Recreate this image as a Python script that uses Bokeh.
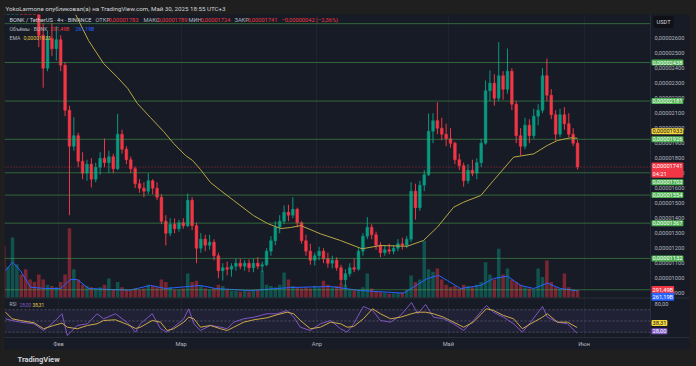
from bokeh.plotting import figure
from bokeh.models import Range1d, FixedTicker, Label, Span, BoxAnnotation, ColumnDataSource, Title
from bokeh.embed import file_html
from bokeh.resources import INLINE

# ---------------- data (BONK/USDT, values in units of 1e-8 USDT) ----------------
# one entry per day, index 0 = 19 Jan 2025 ... index 131 = 30 May 2025
opens = [3500,3150,3250,3300,3350,3300,3200,3100,3000,2620,
         2400,2600,2530,2590,2420,2120,1880,1950,1780,1700,
         1760,1660,1740,1800,1770,1810,1730,1960,1860,1790,
         1730,1630,1600,1580,1650,1600,1540,1380,1300,1360,
         1330,1370,1350,1520,1350,1200,1260,1220,1240,1150,
         1050,1070,1060,1080,1100,1080,1100,1070,1100,1080,
         1090,1180,1250,1340,1380,1440,1420,1460,1370,1250,
         1180,1120,1150,1180,1130,1100,1120,1070,990,1030,
         1070,1060,1180,1280,1340,1290,1220,1170,1190,1180,
         1200,1230,1220,1260,1580,1470,1620,1690,1980,2050,
         2000,1960,1930,1900,1790,1750,1650,1720,1700,1770,
         1900,2250,2300,2200,2350,2260,2380,2160,1950,1880,
         2020,1950,2080,2120,2350,2220,2090,1960,2090,2030,
         1960,1900]
closes = [3150,3250,3300,3350,3300,3200,3100,3000,2620,2400,
          2600,2530,2590,2420,2120,1880,1950,1780,1700,1760,
          1660,1740,1800,1770,1810,1730,1960,1860,1790,1730,
          1630,1600,1580,1650,1600,1540,1380,1300,1360,1330,
          1370,1350,1520,1350,1200,1260,1220,1240,1150,1050,
          1070,1060,1080,1100,1080,1100,1070,1100,1080,1090,
          1180,1250,1340,1380,1440,1420,1460,1370,1250,1180,
          1120,1150,1180,1130,1100,1120,1070,990,1030,1070,
          1060,1180,1280,1340,1290,1220,1170,1190,1180,1200,
          1230,1220,1260,1580,1470,1620,1690,1980,2050,2000,
          1960,1930,1900,1790,1750,1650,1720,1700,1770,1900,
          2250,2300,2200,2350,2260,2380,2160,1950,1880,2020,
          1950,2080,2120,2350,2220,2090,1960,2090,2030,1960,
          1900,1741]
highs = [3600,3350,3400,3450,3420,3380,3250,3150,3020,2700,
         2650,2700,2680,2620,2440,2150,2073,1970,1840,1790,
         1800,1770,1840,1931,1850,1830,2096,1990,1880,1810,
         1745,1660,1640,1700,1660,1640,1560,1420,1400,1398,
         1390,1400,1565,1540,1370,1300,1290,1290,1260,1170,
         1100,1110,1100,1131,1130,1120,1125,1130,1140,1110,
         1200,1280,1380,1420,1485,1490,1540,1470,1380,1290,
         1230,1170,1210,1200,1170,1150,1140,1090,1060,1100,
         1130,1200,1300,1407,1360,1310,1240,1220,1230,1220,
         1260,1270,1280,1640,1630,1650,1720,2098,2100,2173,
         2070,2030,2000,1910,1830,1770,1760,1790,1800,1930,
         2318,2385,2360,2573,2380,2531,2400,2180,2000,2070,
         2060,2130,2160,2400,2465,2260,2120,2130,2140,2100,
         2000,1920]
lows = [3050,3000,3150,3200,3250,3150,3050,2950,2540,2270,
        2380,2480,2450,2380,2080,1420,1850,1740,1660,1650,
        1605,1640,1690,1740,1700,1700,1720,1830,1760,1700,
        1600,1570,1540,1560,1560,1520,1360,1218,1280,1300,
        1310,1330,1340,1320,1100,1170,1180,1190,1120,1000,
        985,1020,1010,1050,1060,1050,1040,1040,1060,1040,
        1080,1150,1220,1300,1360,1380,1400,1340,1230,1150,
        1090,1085,1120,1100,1070,1065,1050,960,940,1010,
        1040,1050,1150,1260,1260,1190,1140,1150,1160,1160,
        1180,1190,1200,1240,1390,1450,1580,1680,1900,1960,
        1920,1880,1870,1760,1720,1610,1630,1680,1660,1740,
        1890,2180,2150,2180,2190,2230,2120,1900,1818,1860,
        1900,1930,2020,2100,2180,2060,1918,1940,1990,1940,
        1880,1724]
# volume, billions of BONK
volumes = [2030,1200,2340,1300,900,1100,700,600,900,700,
           500,450,400,600,900,2700,1100,700,500,450,
           400,350,400,500,740,300,600,400,300,280,
           350,300,350,500,450,400,700,600,400,300,
           300,350,940,600,650,450,350,300,350,500,
           450,300,250,250,220,250,230,250,300,1050,
           500,450,400,500,975,700,450,400,350,400,
           350,450,400,650,500,400,450,550,500,300,
           280,300,400,940,350,250,200,180,150,160,
           180,200,300,860,600,700,2220,1100,1000,1130,
           700,500,400,450,350,500,450,400,500,600,
           1370,900,700,1900,900,1130,700,600,500,400,
           350,300,1130,800,1440,600,400,350,940,400,
           300,291.49]
# EMA line (day index, price)
ema_t = [16.4,19.35,22.8,26.0,28.3,30.5,33.5,36.5,38.8,41.5,
         43.1,44.9,47.2,49.5,52.5,57.0,60.2,63.2,65.5,67.8,
         72.3,76.9,81.8,86.0,92.1,95.8,99.0,102.7,105.0,108.9,
         111.8,116.4,121.0,124.1,126.4,129.4,131.0]
ema_v = [2758,2585,2431,2338,2265,2165,2071,1978,1898,1818,
         1785,1725,1638,1585,1518,1418,1365,1331,1338,1351,
         1296,1251,1196,1218,1213,1251,1340,1473,1507,1551,
         1651,1807,1829,1885,1918,1936,1933]
# volume moving average
vma_t = [0.4,2.0,3.8,6.1,9.5,13.0,15.2,16.8,19.4,24.4,
         28.9,33.5,36.9,44.9,48.3,56.3,65.5,74.6,81.4,91.3,
         96.7,99.3,101.3,104.3,108.9,111.8,115.0,118.0,121.0,124.1,
         127.1,131.0]
vma_v = [1050,1377,1050,400,350,350,700,700,350,310,
         290,470,350,470,350,270,390,430,270,170,
         740,860,660,350,470,740,830,470,350,560,
         350,261.19]
# RSI and its moving average
rsi_t = [0.4,1.9,3.8,6.9,9.1,11.4,13.3,14.5,16.8,19.1,
         21.3,22.8,25.5,28.2,30.1,31.2,33.9,35.8,37.3,38.8,
         41.1,42.2,43.4,44.9,47.2,49.5,51.0,52.5,54.8,57.1,
         60.1,62.4,64.7,66.2,67.7,70.0,72.3,74.6,76.9,78.4,
         79.9,82.1,84.2,86.0,88.3,90.6,93.1,94.5,96.3,98.1,
         100.4,102.7,105.0,107.2,110.2,111.8,114.1,116.4,118.4,120.3,
         123.0,124.1,126.4,128.7,130.9]
rsi_v = [53.9,50.9,47.9,45.0,33.0,47.9,62.9,24.1,42.0,45.0,
         62.9,53.9,62.9,47.3,30.0,45.0,62.9,36.1,30.0,38.9,
         53.9,71.8,45.0,33.0,42.0,38.9,36.1,47.9,53.9,56.8,
         62.9,62.9,68.8,56.8,38.9,33.0,45.0,50.9,36.1,30.0,
         45.0,75.9,68.8,50.9,47.9,59.8,83.0,62.9,79.5,56.8,
         53.9,45.0,33.0,50.9,77.7,65.7,56.8,45.0,30.0,47.9,
         75.9,56.8,47.9,45.0,28.0]
rsi_ma_v = [65.7,53.9,50.9,46.8,36.1,42.0,46.1,38.9,36.1,42.0,
            45.0,50.9,52.1,43.8,36.6,38.9,50.9,47.9,33.0,36.1,
            47.9,56.8,53.9,38.9,42.0,36.1,33.0,38.9,47.9,52.1,
            55.7,61.1,65.7,62.9,50.9,36.1,38.9,47.9,45.0,38.9,
            40.2,53.9,71.8,62.9,53.9,56.8,62.9,65.7,65.7,62.9,
            56.8,47.9,38.9,47.9,71.8,68.8,59.8,53.9,36.1,45.0,
            56.8,62.9,47.9,47.9,38.31]
# horizontal support / resistance levels
levels = [2697, 2438, 2181, 1926, 1703, 1554, 1367, 1132, 923]
labelled_levels = [2438, 2181, 1926, 1703, 1554, 1367, 1132]
price_ticks = list(range(900, 2700, 100))
rsi_levels = [70, 50, 30]
month_first_day = [13, 41, 72, 102, 133]
month_names = ["Фев", "Мар", "Апр", "Май", "Июн"]
last_price = 1741
ema_last = 1933
vol_last = 291.49
vma_last = 261.19
rsi_last = 28.00
rsi_ma_last = 38.31

# ---------------- styling / layout ----------------
OUTER = "#1f1f1f"
PANEL = "#171b26"
UP = "#089981"
DN = "#f23645"
GREEN = "#4caf50"
TXT = "#b2b5be"
HEAD = "#d1d4dc"
FONT = "Roboto"
X0, X1 = 0.17, 156.56       # visible time span (day index) incl. price-scale column
CHART_END = 147.66          # where the price scale column begins

def fmt(v):
    return "0,0000%04d" % v

n = len(closes)
days = list(range(n))
src = ColumnDataSource(dict(
    t=days, h=highs, l=lows,
    top=[max(o, c) for o, c in zip(opens, closes)],
    bot=[min(o, c) for o, c in zip(opens, closes)],
    color=[UP if c >= o else DN for o, c in zip(opens, closes)],
    vol=volumes))

p = figure(width=696, height=366, frame_width=685, frame_height=323,
           output_backend="svg", toolbar_location=None,
           x_range=Range1d(X0, X1), y_range=Range1d(604.7, 2758),
           y_axis_location="right",
           min_border_left=4, min_border_right=7, min_border_top=14, min_border_bottom=29,
           background_fill_color=PANEL, border_fill_color=OUTER, outline_line_color=None)
p.extra_y_ranges = {"vol": Range1d(-1560, 11037), "rsi": Range1d(20.5, 597.3)}

p.title.text = "YokoLarmone опубликовал(а) на TradingView.com, Май 30, 2025 18:55 UTC+3"
p.title.text_font = FONT
p.title.text_font_size = "6.2px"
p.title.text_font_style = "normal"
p.title.text_color = HEAD
p.title.align = "left"
p.title.offset = 1
p.title.standoff = 3

# grids
p.xgrid.ticker = FixedTicker(ticks=[d - 0.5 for d in month_first_day])
p.xgrid.grid_line_color = "#1f2331"
p.ygrid.grid_line_color = None

# axes
ya = p.yaxis[0]
ya.ticker = FixedTicker(ticks=price_ticks)
ya.major_label_overrides = {v: fmt(v) for v in price_ticks}
ya.major_tick_line_color = None
ya.minor_tick_line_color = None
ya.major_tick_out = 0
ya.axis_line_color = None
ya.major_label_text_color = TXT
ya.major_label_text_font = FONT
ya.major_label_text_font_size = "5.7px"
ya.major_label_standoff = -35

xa = p.xaxis[0]
xa.ticker = FixedTicker(ticks=[d - 0.5 for d in month_first_day])
xa.major_label_overrides = {d - 0.5: m for d, m in zip(month_first_day, month_names)}
xa.major_tick_line_color = None
xa.minor_tick_line_color = None
xa.major_tick_out = 0
xa.axis_line_color = "#2a2e39"
xa.major_label_text_color = TXT
xa.major_label_text_font = FONT
xa.major_label_text_font_size = "5.7px"
xa.major_label_standoff = 3
xa.background_fill_color = PANEL

p.add_layout(Title(text="TradingView", align="left", offset=13, text_font=FONT,
                   text_font_size="7.5px", text_font_style="bold", text_color=HEAD,
                   standoff=6), "below")

# price-scale separator and pane separator
p.add_layout(Span(location=CHART_END, dimension="height", line_color="#2a2e39", line_width=1))
p.add_layout(Span(location=-20, dimension="width", y_range_name="vol", line_color="#2a2e39", line_width=1))

# RSI pane decoration
p.add_layout(BoxAnnotation(right=CHART_END, bottom=30, top=70, y_range_name="rsi",
                           fill_color="#7e57c2", fill_alpha=0.10, line_color=None))
p.segment(x0=[X0] * 3, x1=[CHART_END] * 3, y0=rsi_levels, y1=rsi_levels, y_range_name="rsi",
          line_color="#787b86", line_alpha=0.55, line_dash="2 2", line_width=1)

# volume
p.vbar(x="t", width=0.8, top="vol", bottom=0, fill_color="color", fill_alpha=0.45,
       line_color=None, source=src, y_range_name="vol")
p.line(vma_t, vma_v, y_range_name="vol", line_color="#2962ff", line_width=1)

# candles
p.segment(x0="t", y0="h", x1="t", y1="l", line_color="color", line_width=1, source=src)
p.vbar(x="t", width=0.62, top="top", bottom="bot", fill_color="color", line_color="color",
       line_width=0.5, source=src)

# horizontal levels and last-price line
p.segment(x0=[X0] * len(levels), x1=[CHART_END] * len(levels), y0=levels, y1=levels,
          line_color=GREEN, line_alpha=0.5, line_width=1)
p.segment(x0=[X0], x1=[CHART_END], y0=[last_price], y1=[last_price],
          line_color=DN, line_alpha=0.6, line_dash="1 2", line_width=1)

# EMA
p.line(ema_t, ema_v, line_color="#b8a745", line_width=1)

# RSI
p.line(rsi_t, rsi_v, y_range_name="rsi", line_color="#7e57c2", line_width=1)
p.line(rsi_t, rsi_ma_v, y_range_name="rsi", line_color="#d4b43a", line_width=1)

# ---------------- texts ----------------
FL, FB = 4, 337  # frame left, frame bottom in page px

def txt(X, Y, text, color, size="5.7px"):
    p.add_layout(Label(x=X - FL, y=FB - Y, x_units="screen", y_units="screen", text=text,
                       text_color=color, text_font=FONT, text_font_size=size,
                       text_baseline="middle", text_align="left"))

def box(yv, text, bg, fg, yr="default", dy=0):
    p.add_layout(Label(x=651 - FL, x_units="screen", y=yv, y_units="data", y_range_name=yr,
                       y_offset=dy, text=text, text_color=fg, text_font=FONT,
                       text_font_size="5.7px", text_baseline="middle", text_align="left",
                       background_fill_color=bg, padding=1, border_radius=1))

txt(9, 19, "BONK / TetherUS · 4ч · BINANCE", HEAD)
txt(95, 19, "ОТКР", TXT)
txt(108, 19, fmt(1783), DN)
txt(143, 19, "МАКС", TXT)
txt(157, 19, fmt(1789), DN)
txt(188, 19, "МИН", TXT)
txt(200, 19, fmt(1724), DN)
txt(234, 19, "ЗАКР", TXT)
txt(247, 19, fmt(1741), DN)
txt(281, 19, "−0,00000042 (−2,36%)", DN)
txt(9, 28.5, "Объёмы · BONK", TXT, "5.2px")
txt(50, 28.5, "291,49B", DN, "5.2px")
txt(75, 28.5, "261,19B", "#2962ff", "5.2px")
txt(9, 37, "EMA", TXT, "5.2px")
txt(23, 37, fmt(ema_last), "#e0c84a", "5.2px")
txt(9, 304, "RSI", TXT, "4.8px")
txt(19, 304, "28,00", "#7e57c2", "4.8px")
txt(32, 304, "38,31", "#e0c84a", "4.8px")

# right-scale boxes
p.add_layout(Label(x=653 - FL, y=FB - 21.5, x_units="screen", y_units="screen", text="USDT",
                   text_color=HEAD, text_font=FONT, text_font_size="5.7px",
                   text_baseline="middle", background_fill_color="#0f1117", padding=3, border_radius=2))
for lv in labelled_levels:
    dy = -9.5 if lv == 1703 else 0
    box(lv, fmt(lv), GREEN, "white", dy=dy)
box(ema_last, fmt(ema_last), "#f5d63d", "#131722", dy=7)
box(last_price, fmt(last_price) + "\n04:21", DN, "white", dy=-3)
box(vol_last, "291,49B", DN, "white", yr="vol")
box(vma_last, "261,19B", "#2962ff", "white", yr="vol", dy=-6)
box(rsi_ma_last, "38,31", "#f5d63d", "#131722", yr="rsi", dy=4.5)
box(rsi_last, "28,00", "#7e57c2", "white", yr="rsi", dy=2)
p.add_layout(Label(x=654 - FL, x_units="screen", y=80, y_units="data", y_range_name="rsi",
                   text="80,00", text_color=TXT, text_font=FONT, text_font_size="5.7px",
                   text_baseline="middle"))

html = file_html(p, INLINE)
html = html.replace("</head>", "<style>html,body{margin:0;padding:0;background:%s;}</style></head>" % OUTER, 1)
open("out.html", "w").write(html)
